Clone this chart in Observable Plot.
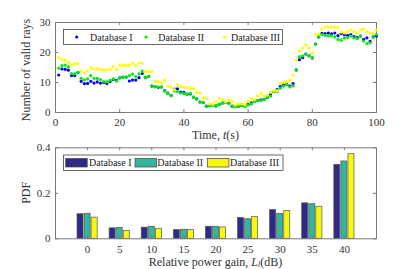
<!DOCTYPE html>
<html><head><meta charset="utf-8">
<script src="https://cdn.jsdelivr.net/npm/d3@7"></script>
<script src="https://cdn.jsdelivr.net/npm/@observablehq/plot@0.6"></script>
<style>
body{margin:0;background:#fff;}
#c{width:415px;height:269px;position:relative;background:#fff;}
#c svg{display:block;position:absolute;left:0;}
</style></head><body><div id="c"></div>
<script>
// ---- Top chart data ----
const timeSec = d3.range(1, 101);
const dbI = [12.5,14.5,14.4,14.1,12.3,12.3,13.3,10.4,9.6,9.7,10.4,9.8,10.2,9.8,10.0,9.7,10.3,11.0,10.7,11.5,11.8,11.8,10.5,10.8,10.8,11.6,13.0,11.6,12.0,8.8,8.6,8.4,8.5,7.3,6.5,5.7,7.8,7.9,6.8,6.7,6.1,6.2,5.1,4.5,3.5,3.3,2.1,2.3,2.5,2.2,2.7,3.2,3.3,3.1,2.1,2.0,2.1,2.3,2.2,2.7,3.2,3.8,4.0,4.2,4.4,5.0,5.9,7.0,7.6,8.6,9.1,9.4,8.8,9.6,14.2,17.6,18.3,19.5,18.9,18.2,22.8,25.2,26.4,26.3,26.5,26.2,26.5,25.6,26.3,25.9,25.7,26.0,25.3,25.0,25.5,24.4,24.9,23.7,25.3,25.5];
const dbII = [14.8,15.6,15.8,15.2,13.0,12.9,13.4,11.4,10.9,11.2,12.3,11.4,11.4,11.0,10.3,10.2,10.7,11.2,10.5,11.7,11.8,11.7,12.3,12.8,12.0,12.9,13.8,11.7,12.0,8.9,8.6,8.5,8.5,7.1,6.3,5.6,7.2,7.0,6.5,6.3,6.1,6.4,5.1,4.7,3.5,3.4,2.0,2.3,2.4,2.2,2.6,3.1,3.4,3.0,2.0,1.9,2.2,2.3,2.0,2.5,2.9,3.6,4.0,4.0,4.3,5.1,5.5,7.0,7.0,8.1,8.8,9.3,8.5,8.9,14.2,18.6,18.9,19.5,18.9,18.2,22.8,25.2,26.0,25.7,25.6,25.6,25.2,24.3,24.1,24.8,25.0,25.5,24.9,24.6,25.5,23.8,23.0,23.2,25.0,26.0];
const dbIII = [18.3,17.7,17.4,16.7,15.9,16.3,16.3,13.8,13.3,14.0,15.0,14.5,14.6,14.4,14.2,14.2,14.4,15.3,14.4,15.9,15.6,15.6,15.8,16.4,15.6,16.5,16.5,13.7,13.7,13.7,10.5,10.3,9.9,10.8,8.8,8.5,7.6,9.2,8.6,8.5,8.5,8.1,8.0,6.7,6.5,4.9,4.7,2.9,2.8,3.6,4.7,4.2,3.5,4.1,3.8,2.5,2.9,2.9,2.6,3.7,4.6,4.3,5.5,6.3,5.5,5.8,6.9,7.3,7.3,9.7,10.1,10.3,10.7,12.5,17.5,20.5,21.5,22.5,21.5,19.8,26.0,26.2,27.8,28.5,28.5,28.5,28.5,28.3,26.8,26.5,27.0,27.5,27.0,26.5,27.5,27.8,27.0,26.5,26.2,27.5];
const topXTicks = [0,20,40,60,80,100];
const topYTicks = [0,10,20,30];

// ---- Bottom chart data ----
const gains = [0,5,10,15,20,25,30,35,40];
const pdfI = [0.108,0.046,0.049,0.038,0.053,0.092,0.126,0.156,0.325];
const pdfII = [0.110,0.048,0.053,0.040,0.053,0.086,0.110,0.152,0.340];
const pdfIII = [0.093,0.034,0.044,0.039,0.050,0.095,0.122,0.141,0.372];
const botYTicks = [0,0.2,0.4];
const seriesNames = ["Database I","Database II","Database III"];

const dotColors = ["#0000ff","#00ee00","#ffff00"];
const barColors = ["#2e2a85","#35b59c","#f8f80f"];
const axisCol = "#7a7a7a";
const font = "'Liberation Serif', 'Times New Roman', serif";

const pts = [];
[dbI, dbII, dbIII].forEach((arr, s) => arr.forEach((v, i) => pts.push({t: timeSec[i], v, s})));

const W = 415, ml = 55, mr = 39;
const innerW = W - ml - mr;

// Top
const h1 = 146, mt1 = 22, mb1 = 34, ih1 = h1 - mt1 - mb1;
const chartTop = Plot.plot({
  width: W, height: h1, marginLeft: ml, marginRight: mr, marginTop: mt1, marginBottom: mb1,
  style: {fontFamily: font, fontSize: "11px", color: "#333", background: "transparent"},
  x: {domain: [0, 100]},
  y: {domain: [0, 30]},
  marks: [
    Plot.frame({stroke: axisCol}),
    Plot.tickX(topXTicks, {x: d => d, insetTop: ih1 - 3, stroke: axisCol}),
    Plot.tickX(topXTicks, {x: d => d, insetBottom: ih1 - 3, stroke: axisCol}),
    Plot.tickY(topYTicks, {y: d => d, insetRight: innerW - 3, stroke: axisCol}),
    Plot.tickY(topYTicks, {y: d => d, insetLeft: innerW - 3, stroke: axisCol}),
    Plot.axisX({ticks: topXTicks, tickSize: 0, tickPadding: 6, label: null, fontSize: 11}),
    Plot.axisY({ticks: topYTicks, tickSize: 0, tickPadding: 5, label: null, fontSize: 11}),
    Plot.dot(pts, {x: "t", y: "v", r: 1.6, fill: d => dotColors[d.s], stroke: "none"})
  ]
});

// Bottom (placed at page y = 140)
const off2 = 140;
const h2 = 129, mt2 = 7.3, mb2 = 30.7, ih2 = h2 - mt2 - mb2;
const offs = [-1.1, 0, 1.1], bw = 0.94;
const bars = [];
[pdfI, pdfII, pdfIII].forEach((arr, s) => arr.forEach((v, i) => bars.push({g: gains[i], v, s})));
const chartBot = Plot.plot({
  width: W, height: h2, marginLeft: ml, marginRight: mr, marginTop: mt2, marginBottom: mb2,
  style: {fontFamily: font, fontSize: "11px", color: "#333", background: "transparent"},
  x: {domain: [-5, 45]},
  y: {domain: [0, 0.4]},
  marks: [
    Plot.rectY(bars, {x1: d => d.g + offs[d.s] - bw/2, x2: d => d.g + offs[d.s] + bw/2, y1: 0, y2: "v",
      fill: d => barColors[d.s], stroke: "#555", strokeWidth: 0.7}),
    Plot.frame({stroke: axisCol}),
    Plot.tickX(gains, {x: d => d, insetTop: ih2 - 3, stroke: axisCol}),
    Plot.tickX(gains, {x: d => d, insetBottom: ih2 - 3, stroke: axisCol}),
    Plot.tickY(botYTicks, {y: d => d, insetRight: innerW - 3, stroke: axisCol}),
    Plot.tickY(botYTicks, {y: d => d, insetLeft: innerW - 3, stroke: axisCol}),
    Plot.axisX({ticks: gains, tickSize: 0, tickPadding: 6, label: null, fontSize: 11}),
    Plot.axisY({ticks: botYTicks, tickSize: 0, tickPadding: 5, label: null, fontSize: 11, tickFormat: d => d === 0 ? "0" : String(d)})
  ]
});

const c = document.getElementById("c");
chartBot.style.top = off2 + "px";
chartTop.style.top = "0px";
c.appendChild(chartBot);
c.appendChild(chartTop);

function txt(sel, x, y, size, anchor) {
  return sel.append("text").attr("x", x).attr("y", y)
    .style("font-family", font).style("font-size", size + "px").style("text-anchor", anchor).attr("fill", "#333");
}

// Labels & legends
const cx = ml + innerW / 2;
const s1 = d3.select(chartTop);
txt(s1, cx, 138.5, 12, "middle")
  .call(t => { t.append("tspan").text("Time, "); t.append("tspan").style("font-style", "italic").text("t"); t.append("tspan").text("(s)"); });
txt(s1, 0, 0, 12, "middle").attr("transform", `translate(30,${mt1 + ih1/2 + 3}) rotate(-90)`).text("Number of valid rays");
const lg1 = s1.append("g");
lg1.append("rect").attr("x", 63.5).attr("y", 29.5).attr("width", 219).attr("height", 15).attr("fill", "white").attr("stroke", "#444").attr("stroke-width", 0.8);
const dotX = [76.7, 146, 224.5], txtX = [90, 158.3, 231];
seriesNames.forEach((n, i) => {
  lg1.append("circle").attr("cx", dotX[i]).attr("cy", 37).attr("r", 1.6).attr("fill", dotColors[i]);
  txt(lg1, txtX[i], 40.5, 10, "start").attr("fill", "#222").text(n);
});

const s2 = d3.select(chartBot);
txt(s2, cx, 265.5 - off2, 12, "middle")
  .call(t => { t.append("tspan").text("Relative power gain, "); t.append("tspan").style("font-style", "italic").text("L");
    t.append("tspan").style("font-style", "italic").style("font-size", "8px").attr("dy", 1.5).text("l");
    t.append("tspan").attr("dy", -1.5).text("(dB)"); });
txt(s2, 0, 0, 12, "middle").attr("transform", `translate(30,${mt2 + ih2/2}) rotate(-90)`).text("PDF");
const lg2 = s2.append("g");
lg2.append("rect").attr("x", 63.5).attr("y", 155 - off2).attr("width", 219.5).attr("height", 15.5).attr("fill", "white").attr("stroke", "#444").attr("stroke-width", 0.8);
const swX = [65.7, 135, 207.5], tx2 = [89, 157.3, 230];
seriesNames.forEach((n, i) => {
  lg2.append("rect").attr("x", swX[i]).attr("y", 158.5 - off2).attr("width", 21.5).attr("height", 8.5).attr("fill", barColors[i]).attr("stroke", "#444").attr("stroke-width", 0.7);
  txt(lg2, tx2[i], 166 - off2, 10, "start").attr("fill", "#222").text(n);
});
</script></body></html>
